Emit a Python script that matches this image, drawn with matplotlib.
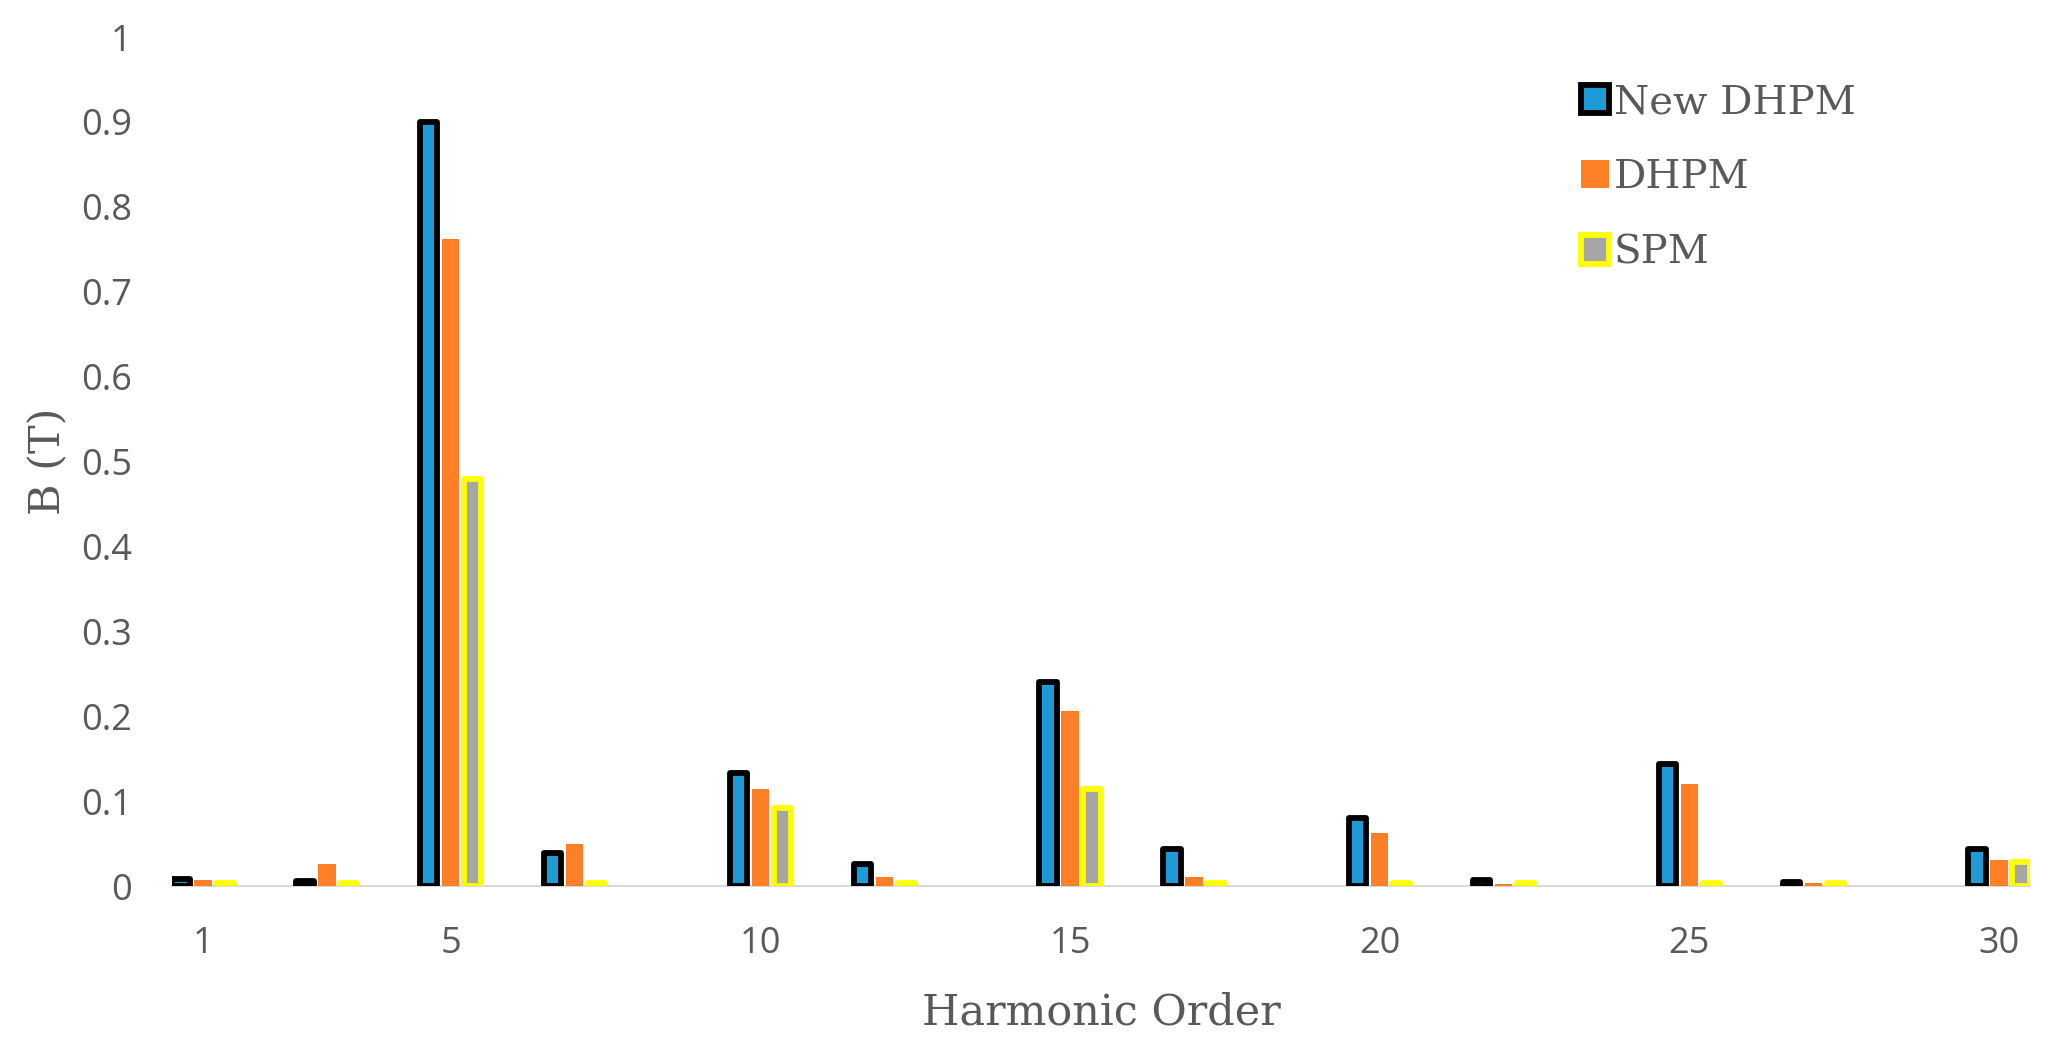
import numpy as np
import matplotlib
matplotlib.use("Agg")
import matplotlib.pyplot as plt

# harmonic orders and B values
orders = [1, 3, 5, 7, 10, 12, 15, 17, 20, 22, 25, 27, 30]
new_dhpm = [0.008, 0.006, 0.900, 0.039, 0.133, 0.026, 0.240, 0.044, 0.080, 0.007, 0.144, 0.005, 0.044]
dhpm = [0.0075, 0.026, 0.762, 0.049, 0.114, 0.011, 0.206, 0.011, 0.062, 0.0025, 0.120, 0.003, 0.031]
spm = [0.003, 0.003, 0.479, 0.003, 0.092, 0.003, 0.114, 0.003, 0.003, 0.003, 0.003, 0.003, 0.028]

xticks = [1, 5, 10, 15, 20, 25, 30]
yticks = [0, 0.1, 0.2, 0.3, 0.4, 0.5, 0.6, 0.7, 0.8, 0.9, 1]
ytick_labels = ["0", "0.1", "0.2", "0.3", "0.4", "0.5", "0.6", "0.7", "0.8", "0.9", "1"]

txt_col = "#595959"
serif = ["DejaVu Serif"]
sans = ["Open Sans", "DejaVu Sans"]

fig = plt.figure(figsize=(20.62, 10.49), dpi=100)
ax = fig.add_axes([172 / 2062, 1 - 886 / 1049, (2030 - 172) / 2062, (886 - 37) / 1049])

x = np.array(orders, dtype=float)
step = 0.355
w = 0.28

b1 = ax.bar(x - step, new_dhpm, w, color="#1e9bd7", edgecolor="black", linewidth=4.2, label="New DHPM")
b2 = ax.bar(x, dhpm, w, color="#ff7f27", linewidth=0, label="DHPM")
b3 = ax.bar(x + step, spm, w, color="#a6a6a6", edgecolor="#ffff00", linewidth=4.2, label="SPM")
for bars in (b1, b3):
    for p in bars:
        p.set_joinstyle("round")

ax.set_xlim(0.5, 30.5)
ax.set_ylim(0, 1)
ax.set_xticks(xticks)
ax.set_xticklabels([str(t) for t in xticks])
ax.set_yticks(yticks)
ax.set_yticklabels(ytick_labels)
ax.tick_params(axis="both", length=0, labelsize=26, labelcolor=txt_col)
ax.tick_params(axis="x", pad=29)
ax.tick_params(axis="y", pad=29)
for lab in ax.get_xticklabels() + ax.get_yticklabels():
    lab.set_family(sans)

for s in ("top", "right", "left"):
    ax.spines[s].set_visible(False)
ax.spines["bottom"].set_color("#d9d9d9")
ax.spines["bottom"].set_linewidth(1.5)
ax.spines["bottom"].set_zorder(0.5)

ax.set_xlabel("Harmonic Order", family=serif, fontsize=31, color=txt_col, labelpad=21)
ax.set_ylabel("B (T)", family=serif, fontsize=31, color=txt_col, labelpad=8)

leg = fig.legend(handles=[b1, b2, b3], loc="upper left",
                 bbox_to_anchor=(1581 / 2062, 1 - 84 / 1049), frameon=False,
                 prop={"family": serif, "size": 29}, handlelength=0.7, handleheight=0.7,
                 handletextpad=0.12, labelspacing=0.95, borderpad=0, borderaxespad=0)
for t in leg.get_texts():
    t.set_color(txt_col)

fig.savefig("out.png", dpi=100)
